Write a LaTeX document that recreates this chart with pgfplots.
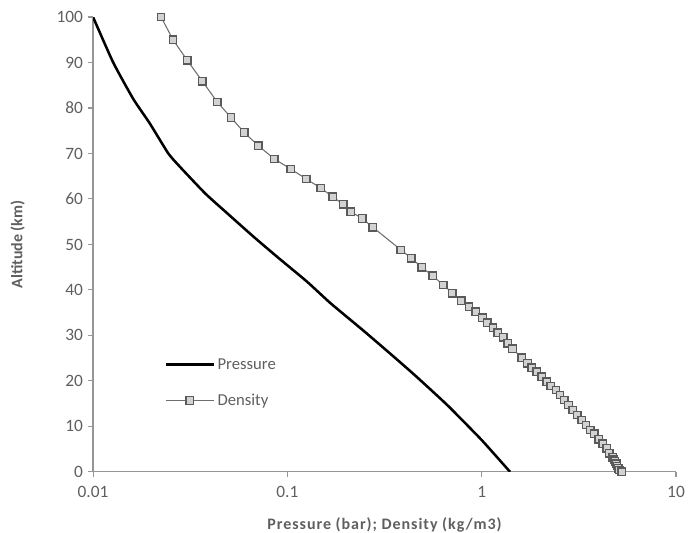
\documentclass[border=0pt]{standalone}
\usepackage{fontspec}
\setmainfont{Carlito}
\usepackage{pgfplots}
\pgfplotsset{compat=1.18}
\definecolor{axisgray}{RGB}{150,150,150}
\definecolor{labelgray}{RGB}{95,95,95}
\definecolor{densline}{RGB}{110,110,110}
\definecolor{densfill}{RGB}{210,210,210}
\definecolor{densedge}{RGB}{90,90,90}

\begin{document}
\begin{tikzpicture}
\begin{axis}[
    scale only axis, width=437pt, height=341pt,
    xmode=log, xmin=0.01, xmax=10, ymin=0, ymax=100,
    xtick={0.01,0.1,1,10}, xticklabels={0.01,0.1,1,10},
    ytick distance=10, xminorticks=false,
    axis lines*=left, axis line style={-, draw=axisgray, line width=0.9pt},
    tick align=outside, major tick length=4pt,
    tick style={axisgray, line width=0.8pt},
    /pgf/number format/assume math mode=true,
    ticklabel style={font=\fontsize{13}{15}\selectfont, text=labelgray},
    xticklabel style={yshift=-3pt},
    label style={font=\bfseries\fontsize{12}{14}\selectfont, text=labelgray},
    xlabel={\addfontfeatures{LetterSpace=6}Pressure (bar); Density (kg/m3)},
    ylabel={Altitude (km)},
    xlabel style={yshift=-8pt},
    ylabel style={yshift=17pt},
    legend style={at={(0.115,0.262)}, anchor=north west, draw=none, fill=none,
        font=\fontsize{12.5}{14}\selectfont, text=labelgray, row sep=13pt,
        nodes={inner xsep=2pt}},
    legend cell align=left,
    legend image code/.code={\draw[mark repeat=2,mark phase=2,#1]
        plot coordinates {(0pt,0pt) (18pt,0pt) (36pt,0pt)};},
]
\addplot[black, line width=1.9pt, mark=none, smooth, tension=0.3] coordinates {
(0.0100,100) (0.0127,90) (0.0161,82) (0.0196,76.6) (0.0244,70) (0.0281,67)
(0.0378,61.2) (0.0489,56.9) (0.0670,51.7) (0.0885,47.3) (0.1264,41.8)
(0.1666,37.1) (0.244,31.2) (0.308,27.5) (0.369,24.6) (0.441,21.7) (0.527,18.7)
(0.676,14.4) (1.0,7.0) (1.40,0)
};
\addlegendentry{Pressure}
\addplot[densline, line width=0.8pt, mark=square*, mark size=2.8pt,
    mark options={fill=densfill, draw=densedge, line width=1pt}] coordinates {
(0.0224,100) (0.0258,95) (0.0305,90.5) (0.0365,85.9) (0.0436,81.3) (0.0513,77.9)
(0.060,74.6) (0.0709,71.7) (0.0857,68.8) (0.104,66.6) (0.125,64.4) (0.1485,62.4)
(0.171,60.5) (0.194,58.8) (0.212,57.2) (0.243,55.7) (0.275,53.8) (0.384,48.8)
(0.434,47.0) (0.491,45.0) (0.559,43.1) (0.635,41.1) (0.706,39.3) (0.786,37.6)
(0.860,36.3) (0.931,35.2) (1.009,33.9) (1.07,32.8) (1.143,31.7) (1.21,30.6)
(1.29,29.6) (1.36,28.3) (1.44,27.1) (1.61,25.1) (1.72,23.9) (1.81,22.9)
(1.92,22.0) (2.04,20.9) (2.16,19.8) (2.27,18.9) (2.41,18.0) (2.53,16.9)
(2.66,15.8) (2.80,14.7) (2.94,13.6) (3.11,12.5) (3.27,11.4) (3.44,10.3)
(3.62,9.2) (3.79,8.4) (4.00,7.2) (4.19,6.2) (4.40,5.2) (4.53,4.1) (4.72,3.2)
(4.80,2.7) (4.85,2.3) (4.92,1.8) (4.97,1.3) (5.05,0.8) (5.12,0.4) (5.25,0)
};
\addlegendentry{Density}
\end{axis}
\pgfresetboundingbox
\path ([shift={(-69.75pt,-45.75pt)}]current axis.south west)
    rectangle ([shift={(12.75pt,12.75pt)}]current axis.north east);
\end{tikzpicture}
\end{document}
